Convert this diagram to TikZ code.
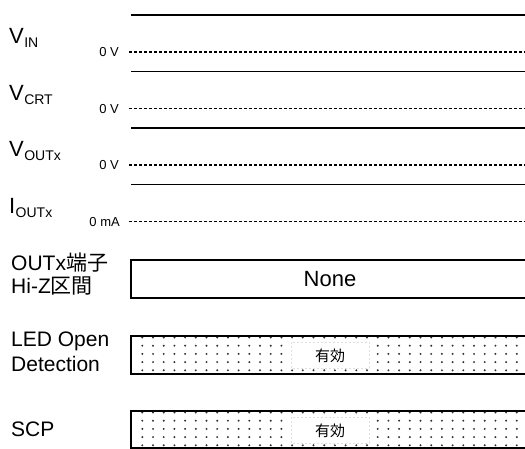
\documentclass[tikz,border=0pt]{standalone}
\usepackage{fontspec}
\setmainfont{Liberation Sans}
\newfontfamily\cjk{Noto Sans CJK JP}
\begin{document}
\begin{tikzpicture}[x=1pt,y=-1pt,
  sig/.style={line width=1.6pt},
  zeroline/.style={line width=1.2pt, dash pattern=on 3pt off 2pt},
  lbl/.style={anchor=base west, inner sep=0pt, font=\fontsize{21}{25}\selectfont},
  vlbl/.style={anchor=base west, inner sep=0pt, font=\fontsize{22}{26}\selectfont},
  sublbl/.style={anchor=base west, inner sep=0pt, font=\fontsize{14}{16}\selectfont},
  zl/.style={anchor=base east, inner sep=0pt, font=\fontsize{13}{15}\selectfont},
  bar/.style={line width=1.5pt},
  dotc/.style={fill=black!80},
  txtbox/.style={fill=white, draw=black!12, line width=0.5pt, dash pattern=on 2pt off 2pt},
  jp/.style={font=\cjk\fontsize{15}{17}\selectfont, inner sep=0pt},
]
\useasboundingbox (0,0) rectangle (525,449);
\clip (0,0) rectangle (525,449);

% signal labels
\node[vlbl] (vin) at (9,44) {V};
\node[sublbl] (vinsub) at (vin.base east) [yshift=-4pt] {IN};
\node[vlbl] (vcrt) at (9,100.5) {V};
\node[sublbl] (vcrtsub) at (vcrt.base east) [yshift=-4pt] {CRT};
\node[vlbl] (vout) at (9,157) {V};
\node[sublbl] (voutsub) at (vout.base east) [yshift=-4pt] {OUTx};
\node[vlbl] (iout) at (9,213.5) {I};
\node[sublbl] (ioutsub) at (iout.base east) [yshift=-4pt] {OUTx};

% zero labels
\node[zl] (z1) at (119,57) {0 V};
\node[zl] (z2) at (119,113.5) {0 V};
\node[zl] (z3) at (119,170) {0 V};
\node[zl] (z4) at (120,226.5) {0 mA};

% waveforms
\foreach \y in {15,71.5,128,184.5} \draw[sig] (131,\y) -- (530,\y);
\foreach \y in {52,108.5,165,221.5} \draw[zeroline] (129,\y) -- (530,\y);

% OUTx Hi-Z
\node[lbl] (hz1) at (11,270) {OUTx{\cjk 端子}};
\node[lbl] (hz2) at (11,294) {Hi-Z{\cjk 区間}};
\draw[bar] (131,260) rectangle (540,298);
\node[font=\fontsize{22}{26}\selectfont, inner sep=0pt] (none) at (330,279.5) {None};

% LED open detection
\node[lbl] (led1) at (11,346.5) {LED Open};
\node[lbl] (led2) at (11,371) {Detection};
\begin{scope}
  \clip (131,336) rectangle (540,374);
  \foreach \c in {0,...,36} \foreach \r in {0,...,4}
    \fill[dotc] (142.3+10.7*\c, 337.5+8.2*\r) circle (1.1);
\end{scope}
\filldraw[txtbox] (291,342) rectangle (369,368);
\draw[bar] (131,336) rectangle (540,374);
\node[jp] (ledtxt) at (330,355.5) {有効};

% SCP
\node[lbl] (scp) at (11,436.5) {SCP};
\begin{scope}
  \clip (131,411) rectangle (540,448);
  \foreach \c in {0,...,36} \foreach \r in {0,...,4}
    \fill[dotc] (142.3+10.7*\c, 412.5+8.2*\r) circle (1.1);
\end{scope}
\filldraw[txtbox] (291,417) rectangle (369,443);
\draw[bar] (131,411) rectangle (540,448);
\node[jp] (scptxt) at (330,430.5) {有効};
\end{tikzpicture}
\end{document}
